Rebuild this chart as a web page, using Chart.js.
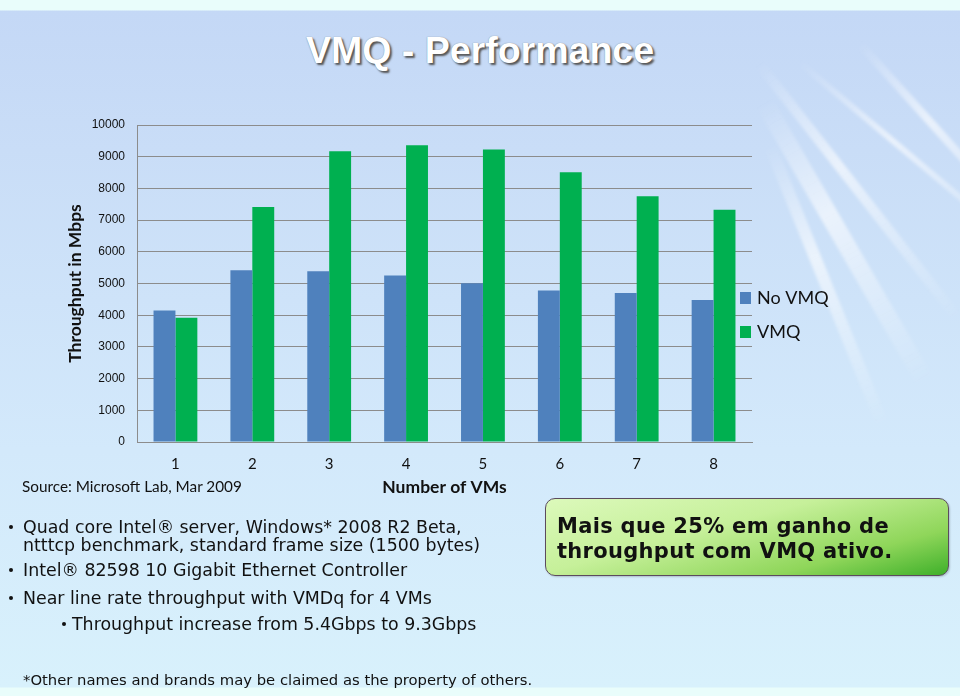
<!DOCTYPE html>
<html>
<head>
<meta charset="utf-8">
<script src="https://cdn.jsdelivr.net/npm/chart.js@4.4.1/dist/chart.umd.min.js"></script>
<style>
  html, body { margin: 0; padding: 0; }
  body {
    width: 960px; height: 696px; position: relative; overflow: hidden;
    background: linear-gradient(180deg, #e9fdfb 0px, #e9fdfb 10px, #c4d8f6 11px, #c9ddf7 150px, #d3e9fb 450px, #d8f1fc 687px, #e9fdfb 688px);
  }
  .glow { position: absolute; background: linear-gradient(90deg, rgba(255,255,255,0), rgba(255,255,255,0.6) 40%, rgba(255,255,255,0)); transform-origin: 0 50%; filter: blur(1.5px); }
  #chart { position: absolute; left: 0; top: 0; }
  .title {
    position: absolute; left: 0; width: 960px; top: 29px; text-align: center;
    font: bold 37.5px "Liberation Sans", Arial, sans-serif; color: #fff;
    text-shadow: 2px 2px 2px #555, 0 0 1px #777;
  }
  .src { position: absolute; left: 22px; top: 477px; font: 15.3px Lato, sans-serif; color: #111; }
  .b { position: absolute; font: 17.4px "DejaVu Sans", Verdana, sans-serif; color: #111; white-space: nowrap; line-height: 18px; }
  .dot { position: absolute; width: 4px; height: 4px; border-radius: 2px; background: #111; }
  .note { position: absolute; left: 23px; top: 671px; font: 14.8px "DejaVu Sans", Verdana, sans-serif; color: #111; white-space: nowrap; }
  .box {
    position: absolute; left: 545px; top: 498px; width: 402px; height: 76px;
    border: 1.5px solid #5b4b5e; border-radius: 10px;
    background: linear-gradient(165deg, #dcf9bb 0%, #c6f09a 40%, #8fd65a 75%, #3fb02a 100%);
    box-shadow: 1px 1px 2px rgba(0,0,0,0.2);
  }
  .box div { position: absolute; left: 11px; font: bold 21px "DejaVu Sans", Verdana, sans-serif; letter-spacing: 0.3px; color: #111; white-space: nowrap; }
</style>
</head>
<body>
<div class="glow" style="left:760px;top:60px;width:320px;height:10px;transform:rotate(52deg);"></div>
<div class="glow" style="left:765px;top:95px;width:320px;height:18px;transform:rotate(60deg);"></div>
<div class="glow" style="left:770px;top:140px;width:300px;height:12px;transform:rotate(68deg);"></div>
<div class="glow" style="left:800px;top:60px;width:300px;height:6px;transform:rotate(40deg);"></div>
<div class="glow" style="left:860px;top:40px;width:260px;height:8px;transform:rotate(48deg);"></div>

<div class="title">VMQ - Performance</div>
<canvas id="chart" width="960" height="696"></canvas>
<div class="src">Source: Microsoft Lab, Mar 2009</div>

<div class="dot" style="left:9px;top:525px;"></div>
<div class="b" style="left:23px;top:518px;">Quad core Intel® server, Windows* 2008 R2 Beta,</div>
<div class="b" style="left:23px;top:536px;">ntttcp benchmark, standard frame size (1500 bytes)</div>
<div class="dot" style="left:9px;top:568px;"></div>
<div class="b" style="left:23px;top:561px;">Intel® 82598 10 Gigabit Ethernet Controller</div>
<div class="dot" style="left:9px;top:596px;"></div>
<div class="b" style="left:23px;top:589px;">Near line rate throughput with VMDq for 4 VMs</div>
<div class="dot" style="left:62px;top:622px;"></div>
<div class="b" style="left:72px;top:615px;">Throughput increase from 5.4Gbps to 9.3Gbps</div>

<div class="box">
  <div style="top:15px;">Mais que 25% em ganho de</div>
  <div style="top:40px;">throughput com VMQ ativo.</div>
</div>

<div class="note">*Other names and brands may be claimed as the property of others.</div>

<script>
const vmCounts = ["1", "2", "3", "4", "5", "6", "7", "8"];
const noVmq = [4150, 5420, 5390, 5250, 5010, 4780, 4700, 4480];
const withVmq = [3920, 7410, 9170, 9360, 9230, 8510, 7750, 7330];
const seriesNames = ["No VMQ", "VMQ"];
const seriesColors = ["#4f81bd", "#00b050"];

// legend drawn at the right edge of the plot, like the original slide
const sideLegend = {
  id: "sideLegend",
  afterDraw(chart) {
    const ctx = chart.ctx;
    const area = chart.chartArea;
    ctx.save();
    ctx.font = "18px Lato";
    ctx.textBaseline = "middle";
    chart.data.datasets.forEach((ds, i) => {
      const y = area.top + 173 + i * 34;
      ctx.fillStyle = ds.backgroundColor;
      ctx.fillRect(area.right - 12, y - 6, 11, 12);
      ctx.fillStyle = "#111";
      ctx.fillText(ds.label, area.right + 5, y);
    });
    ctx.restore();
  }
};

Chart.defaults.font.family = "Lato";
Chart.defaults.color = "#111";

new Chart(document.getElementById("chart"), {
  type: "bar",
  data: {
    labels: vmCounts,
    datasets: [
      { label: seriesNames[0], data: noVmq, backgroundColor: seriesColors[0] },
      { label: seriesNames[1], data: withVmq, backgroundColor: seriesColors[1] }
    ]
  },
  options: {
    responsive: false,
    animation: false,
    layout: { padding: { left: 61, top: 125, right: 208, bottom: 194 } },
    datasets: { bar: { categoryPercentage: 0.57, barPercentage: 1.0 } },
    plugins: { legend: { display: false }, tooltip: { enabled: false } },
    scales: {
      x: {
        afterFit(scale) { scale.height = 60; },
        grid: { display: false, drawTicks: false },
        border: { display: true, color: "#8c8c8c", width: 1 },
        ticks: { padding: 13, font: { size: 15 } },
        title: { display: true, text: "Number of VMs", font: { size: 17.5, weight: "bold" } }
      },
      y: {
        min: 0,
        max: 10000,
        afterFit(scale) { scale.width = 76; },
        grid: { color: "#8c8c8c", drawTicks: false },
        border: { display: true, color: "#8c8c8c", width: 1 },
        ticks: {
          stepSize: 1000, padding: 12,
          font: { family: "Liberation Sans", size: 12 },
          callback: (v) => String(v)
        },
        title: { display: true, text: "Throughput in Mbps", font: { size: 17.5, weight: "bold" } }
      }
    }
  },
  plugins: [sideLegend]
});
</script>
</body>
</html>
